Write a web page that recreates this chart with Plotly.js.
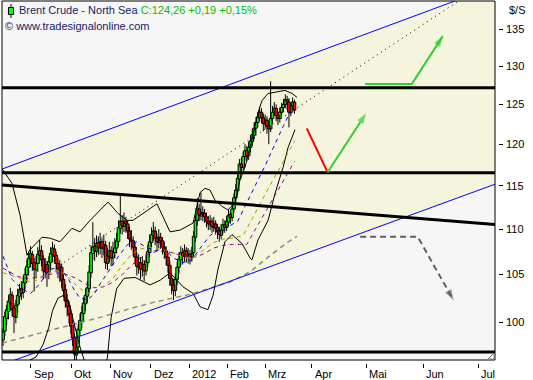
<!DOCTYPE html>
<html><head><meta charset="utf-8">
<script src="https://cdn.plot.ly/plotly-3.0.1.min.js"></script>
<style>body{margin:0;background:#fff}#chart{width:533px;height:380px}</style>
</head><body><div id="chart"></div><script>
// ---- data (bar index = trading day, future = calendar days) ----
const tickPos  = [15.1, 37.1, 58.5, 80.6, 101.5, 122.4, 143.1, 168.4, 198.2, 229.3, 259.3];
const tickText = ['Sep','Okt','Nov','Dez','2012','Feb','Mrz','Apr','Mai','Jun','Jul'];
const yTicks   = [100,105,110,115,120,125,130,135];

const open  = [98.2,99.1,100.4,101.1,102.0,102.8,101.5,100.5,101.8,102.7,103.5,103.1,104.1,105.0,105.8,106.7,107.2,106.3,105.5,106.2,
107.1,107.6,106.7,105.3,106.1,105.2,106.3,107.2,107.8,107.1,106.2,105.5,105.8,104.5,103.4,102.3,101.7,100.9,99.7,98.5,
96.7,97.5,99.2,100.1,100.9,101.9,102.7,103.5,105.2,107.3,108.1,107.5,108.5,107.9,108.6,107.8,108.2,106.2,107.0,107.6,
106.8,107.4,107.9,108.6,110.1,110.9,110.3,110.9,110.6,109.8,108.8,108.7,108.0,106.9,105.8,106.3,105.6,106.1,105.4,106.3,
107.4,108.5,109.3,109.8,109.0,108.5,109.1,108.7,108.0,107.6,106.9,106.0,104.6,103.9,103.3,104.5,105.8,106.6,107.4,107.0,
107.6,107.0,107.2,106.9,107.4,109.1,111.0,112.3,111.5,111.9,111.8,111.4,110.9,110.5,110.9,110.2,110.6,110.2,109.8,109.3,
109.9,110.5,110.2,110.8,111.7,111.3,112.3,113.6,114.4,115.8,117.6,117.2,118.5,119.2,118.6,119.6,120.3,121.1,122.0,122.7,
123.3,124.0,123.3,122.5,123.0,122.3,121.9,123.2,124.0,124.5,123.6,123.2,124.0,124.6,125.0,125.6,125.3,124.0,124.8,125.3];
const high  = [99.4,101.1,101.8,102.8,103.6,103.2,102.0,102.3,103.5,104.0,104.3,104.8,105.7,106.6,107.5,108.1,107.6,106.8,107.0,108.0,
108.8,108.2,107.1,106.8,106.5,107.0,108.0,108.6,108.3,107.5,106.8,106.6,106.2,105.0,104.0,102.9,102.2,101.4,100.2,98.9,
98.0,99.8,100.9,101.7,102.6,103.5,104.3,106.0,108.2,110.8,109.0,109.3,109.2,109.6,109.0,109.4,108.7,107.9,108.6,108.1,
108.6,109.0,109.6,111.0,113.9,111.6,111.9,111.4,111.0,110.3,109.9,109.2,108.5,107.4,107.2,106.9,107.0,106.6,107.2,108.3,
109.4,110.2,110.8,110.3,109.5,110.0,109.6,109.1,108.6,108.1,107.4,106.5,105.2,104.5,105.1,106.4,107.4,108.1,107.9,108.3,
108.0,107.9,107.7,108.0,109.8,111.6,113.6,112.9,114.2,112.6,112.3,111.9,111.5,111.6,111.3,111.4,111.0,110.6,110.3,110.6,
111.2,111.0,111.5,112.2,112.0,112.9,114.1,115.2,116.6,118.2,118.3,119.1,120.0,119.8,120.3,121.1,121.9,122.7,123.4,124.0,
124.7,124.5,123.8,123.7,123.5,122.8,128.0,124.8,125.3,125.0,124.1,124.6,125.2,125.7,126.3,126.1,125.8,125.3,125.9,125.6];
const low   = [97.6,98.6,99.7,100.3,101.2,100.6,98.9,99.9,101.0,101.9,102.3,102.5,103.4,104.2,104.9,105.8,105.4,103.2,104.6,105.3,
106.2,105.9,104.5,104.6,103.7,104.5,105.6,106.4,106.2,105.3,104.6,104.2,103.6,102.6,101.5,100.6,99.9,98.8,97.6,95.8,
95.6,97.0,98.6,99.4,100.2,101.2,102.0,103.0,104.7,106.6,106.5,106.9,107.1,107.2,106.8,107.1,105.6,105.5,106.3,105.9,
106.0,106.8,107.3,108.1,109.5,109.4,109.7,109.6,108.9,108.0,107.7,107.0,106.1,104.9,105.1,104.5,104.8,104.3,104.9,105.8,
106.9,107.9,108.7,108.2,107.6,107.9,107.8,107.2,106.7,106.0,105.2,103.8,102.9,102.3,102.7,103.9,105.1,106.0,106.1,106.4,
106.3,106.2,106.1,106.4,107.0,108.6,110.4,110.9,111.0,110.9,110.7,110.2,109.9,109.9,109.6,109.7,109.4,108.9,108.6,108.9,
109.5,109.6,109.8,110.3,110.6,110.9,111.9,113.0,114.0,115.4,116.5,116.8,118.0,117.9,118.1,119.0,119.8,120.6,121.3,122.1,
122.9,122.6,121.6,121.9,121.3,120.0,121.5,122.6,123.5,122.9,122.4,122.7,123.5,124.0,124.5,124.3,122.1,123.5,124.3,123.8];
const close = [99.0,100.6,101.3,102.2,102.9,101.3,100.6,101.7,102.8,103.4,103.0,104.2,105.0,105.9,106.8,107.3,106.2,105.6,106.3,107.2,
107.6,106.6,105.4,106.0,105.2,106.4,107.3,107.9,107.0,106.2,105.6,105.9,104.4,103.3,102.2,101.6,100.8,99.6,98.4,96.8,
97.4,99.3,100.2,101.0,102.0,102.8,103.6,105.3,107.4,108.0,107.6,108.4,108.0,108.6,107.9,108.3,106.3,107.0,107.6,106.8,
107.5,107.9,108.7,110.2,110.9,110.4,110.9,110.6,109.8,108.9,108.6,108.0,106.9,105.9,106.3,105.6,106.1,105.4,106.4,107.5,
108.6,109.4,109.8,109.0,108.6,109.1,108.7,108.0,107.5,106.9,106.0,104.6,103.9,103.3,104.5,105.8,106.7,107.4,107.0,107.6,
107.0,107.2,106.9,107.3,109.2,111.0,112.4,111.6,111.9,111.7,111.4,110.9,110.6,110.9,110.3,110.6,110.1,109.7,109.4,109.9,
110.5,110.2,110.9,111.6,111.3,112.3,113.6,114.5,115.9,117.6,117.2,118.5,119.2,118.6,119.6,120.4,121.2,122.0,122.7,123.4,
124.0,123.3,122.6,123.0,122.2,121.9,123.2,124.0,124.5,123.6,123.2,124.0,124.6,125.0,125.6,125.3,124.0,124.8,125.3,124.26];

// indicators (bar, price)
const bbUpX = [-0.5,4.9,9.3,13.1,14.7,21.3,25.6,31.1,37.6,42,47.5,52.9,57.3,62.7,67.6,70.9,76.4,84,87.3,91.1,96.6,103.7,107.5,110.2,112.9,115.7,119.5,122.7,126.6,129.3,132,135.8,139.1,141.3,144.6,153.8,157.7,160.4];
const bbUpY = [117.0,115.3,111.6,107.1,107.7,109.1,109.0,108.6,110.1,109.7,111.0,112.2,113.1,111.8,111.0,111.0,111.8,112.9,111.4,109.7,109.9,110.7,114.2,114.7,114.5,113.3,112.6,112.2,113.0,115.7,117.2,120.5,123.9,125.5,126.4,126.8,126.4,125.9];
const bbLoX = [-0.5,10,18,22,25,27,30,33,36,39,42,45,50,55,57,59,62,66,72,80.2,85.7,91.1,98.2,103.7,107.5,111.8,114.6,117.3,121.1,124.9,130.4,134.8,135.8,139.1,144.6,148.4,152.8,155.5,157.7,159.3];
const bbLoY = [95.5,95.8,96.5,97.8,99.5,101.2,102.5,102.8,102.0,99.8,97.5,95.8,94.8,95.0,96.5,100.5,103.5,104.6,104.7,103.9,104.4,105.2,103.7,103.0,101.6,101.3,102.8,105.6,108.6,109.4,108.4,106.8,106.6,108.8,111.0,114.1,117.2,119.6,120.9,121.8];
const maBlueX = [0,5,10,15,20,25,30,34,36,39,42,46,50,53,58,63,68,73,78,83,88,93,98,103,108,113,118,123,128,133,138,143,148,153,156,159];
const maBlueY = [107.0,104.5,103.5,103.0,104.0,105.5,105.8,105.0,104.4,103.3,102.5,102.3,103.0,104.0,105.5,107.0,108.3,108.6,108.0,107.6,107.8,106.8,106.3,106.6,108.0,109.3,110.0,110.3,110.9,113.1,115.2,117.4,119.9,122.3,123.7,124.2];
const maOliveX = [0,10,15,20,25,30,34,38,42,46,50,55,60,65,70,75,80,85,90,95,100,105,110,115,120,125,131,136,141,146,151,156,159];
const maOliveY = [105.2,104.6,104.2,104.5,105.2,105.5,105.0,104.3,103.5,103.0,103.2,103.8,104.6,106.0,107.2,107.8,108.0,107.8,107.6,107.2,106.8,107.0,107.8,108.5,108.9,109.0,109.3,111.2,113.2,115.2,117.1,119.1,120.4];
const maPurpleX = [0,8,13,20,25,30,35,40,45,50,55,60,65,70,75,80,85,90,95,100,105,110,115,120,125,133,138,143,148,153,159];
const maPurpleY = [105.7,104.8,104.6,104.7,105.0,105.2,105.0,104.6,104.0,103.6,103.7,104.2,105.0,106.0,106.8,107.3,107.6,107.5,107.2,107.0,106.9,107.3,107.9,108.2,108.3,108.3,110.1,111.9,113.8,115.7,117.9];
const maLongX = [-0.5,20.2,34.9,52.9,69.3,82.9,102,123.8,134.8,144.6,155,160.4];
const maLongY = [97.9,98.9,99.6,100.5,101.4,102.1,102.9,104.2,105.3,106.9,108.5,109.2];

// drawn lines (bar, price)
const levels = [127.15, 116.55, 97.0];
const upperChX = [-0.55, 268.4], upperChY = [116.99, 141.1];
const lowerChX = [-0.55, 268.4], lowerChY = [95.74, 115.19];
const trendX = [-0.55, 268.4], trendY = [115.09, 110.54];
const dotX = [31.1, 260.2], dotY = [106.04, 141.0];
const chanFillX = [-0.55, 268.4, 268.4, 18.6, -0.55];
const chanFillY = [116.99, 141.1, 115.19, 97.0, 97.0];
const redX = [165.7, 177.1], redY = [121.97, 116.6];
const greenX = [177.1, 198.0], greenY = [116.6, 123.85];
const green2X = [197.5, 223.0, 239.9], green2Y = [127.63, 127.63, 134.05];
const grayX = [194.8, 226.2, 245.7], grayY = [109.16, 109.16, 102.31];

const xR = [-0.55, 268.4];
const yR = [Math.log10(96.21), Math.log10(138.96)];
const traces = [];
const ln = (x, y, color, width, dash) => ({type:'scatter', mode:'lines', x, y, xaxis:'x3', yaxis:'y3', line:{color, width, dash: dash||'solid'}, hoverinfo:'skip'});
// background channel fill on the base subplot
traces.push({type:'scatter', mode:'lines', x:chanFillX, y:chanFillY, fill:'toself', fillcolor:'#F5F4DD', line:{width:0}, hoverinfo:'skip'});
// wicks (behind bodies) on overlay 2
const idx = close.map((_, i) => i);
const wickX = [], wickY = [];
idx.forEach(i => { wickX.push(i, i, null); wickY.push(low[i], high[i], null); });
traces.push({type:'scatter', mode:'lines', x:wickX, y:wickY, xaxis:'x2', yaxis:'y2', line:{color:'#000', width:1}, hoverinfo:'skip'});
// bodies on overlay 3
const up = idx.filter(i => close[i] >= open[i]), dn = idx.filter(i => close[i] < open[i]);
traces.push({type:'bar', x:up, base:up.map(i => open[i]), y:up.map(i => Math.max(close[i]-open[i], 0.05)), width:1.45, xaxis:'x3', yaxis:'y3',
  marker:{color:'#00FF00', line:{color:'#000', width:1}}, hoverinfo:'skip'});
traces.push({type:'bar', x:dn, base:dn.map(i => close[i]), y:dn.map(i => open[i]-close[i]), width:1.45, xaxis:'x3', yaxis:'y3',
  marker:{color:'#FF0000', line:{color:'#000', width:1}}, hoverinfo:'skip'});
traces.push(ln(maLongX, maLongY, '#8C8C8C', 1.5, '5px,4px'));
traces.push(ln(bbUpX, bbUpY, '#000000', 1));
traces.push(ln(bbLoX, bbLoY, '#000000', 1));
traces.push(ln(maPurpleX, maPurpleY, '#990099', 1, '4px,4px'));
traces.push(ln(maOliveX, maOliveY, '#A0A000', 1, '4px,4px'));
traces.push(ln(maBlueX, maBlueY, '#0000FF', 1, '4px,4px'));
traces.push(ln(dotX, dotY, '#000000', 1, '1px,4px'));
traces.push(ln(upperChX, upperChY, '#0000FF', 1));
traces.push(ln(lowerChX, lowerChY, '#0000FF', 1));
levels.forEach(v => traces.push(ln(xR, [v, v], '#000000', 3)));
traces.push(ln(trendX, trendY, '#000000', 3));
const arrow = (x, y, color, dash) => ({type:'scatter', mode:'lines+markers', x, y, xaxis:'x3', yaxis:'y3',
  line:{color, width:2, dash: dash||'solid'},
  marker:{symbol: x.map((_, i) => i === x.length-1 ? 'arrow' : 'circle'), size: x.map((_, i) => i === x.length-1 ? 11 : 0), color, angleref:'previous', line:{width:0}},
  hoverinfo:'skip'});
traces.push(ln(redX, redY, '#FF0000', 2));
traces.push(arrow(greenX, greenY, '#33CC33'));
traces.push(arrow(green2X, green2Y, '#33CC33'));
traces.push(arrow(grayX, grayY, '#606060', '6px,4px'));

const F = 'Liberation Sans, Arial, sans-serif';
const annotations = tickPos.map((v, i) => ({x: v, y: -0.017, xref:'x', yref:'paper', text: tickText[i], showarrow:false, xanchor:'left', yanchor:'middle', xshift:1, font:{family:F, size:11, color:'#000'}}));
annotations.push({x:(507-2)/501, y:(368-10)/367, xref:'paper', yref:'paper', text:'$/S', showarrow:false, xanchor:'left', yanchor:'middle', font:{family:F, size:11, color:'#000'}});
annotations.push({x:(17-2)/501, y:(368-10)/367, xref:'paper', yref:'paper', text:'Brent Crude - North Sea <span style="color:#00C000">C:124,26 +0,19 +0,15%</span>', showarrow:false, xanchor:'left', yanchor:'middle', font:{family:F, size:11, color:'#1A1A66'}});
annotations.push({x:(3-2)/501, y:(368-26)/367, xref:'paper', yref:'paper', text:'© www.tradesignalonline.com', showarrow:false, xanchor:'left', yanchor:'middle', font:{family:F, size:11, color:'#1A1A66'}});

const px = p => (p-2)/501, py = p => (368-p)/367;
const shapes = [
  {type:'rect', xref:'x domain', yref:'y domain', x0:0, x1:1, y0:0, y1:1, line:{color:'#000', width:1}, layer:'above'},
  {type:'line', xref:'paper', yref:'paper', x0:px(11), x1:px(11), y0:py(4), y1:py(18), line:{color:'#000', width:1}},
  {type:'rect', xref:'paper', yref:'paper', x0:px(8.5), x1:px(13.5), y0:py(7.5), y1:py(14.5), fillcolor:'#00FF00', line:{color:'#000', width:1}},
  {type:'path', xref:'paper', yref:'paper', path:`M ${px(494)} ${py(353)} L ${px(494)} ${py(359)} L ${px(488)} ${py(359)} Z`, fillcolor:'#FFFFFF', line:{color:'#808080', width:1}}
];

const hidden = {showgrid:false, zeroline:false, showline:false, showticklabels:false, ticks:'', fixedrange:true};
const layout = {
  width:533, height:380, margin:{l:2, r:30, t:1, b:12, pad:0},
  paper_bgcolor:'#FFFFFF', plot_bgcolor:'#F6F6F6', showlegend:false, barmode:'overlay',
  xaxis:{range:xR, domain:[0, 493/501], anchor:'free', position:0, showgrid:false, zeroline:false, showline:false,
    tickmode:'array', tickvals:tickPos, ticktext:tickPos.map(() => ''), ticks:'inside', ticklen:4, tickcolor:'#000', tickwidth:1, fixedrange:true},
  yaxis:{type:'log', range:yR, domain:[8/367, 1], anchor:'free', position:1, side:'right',
    showgrid:false, zeroline:false, showline:false, tickmode:'array', tickvals:yTicks, ticktext:yTicks.map(String),
    ticks:'inside', ticklen:4, tickcolor:'#000', ticklabelstandoff:2, tickfont:{family:F, size:11, color:'#000'}, fixedrange:true},
  xaxis2:Object.assign({range:xR, domain:[0, 493/501], overlaying:'x', anchor:'y2'}, hidden),
  yaxis2:Object.assign({type:'log', range:yR, domain:[8/367, 1], overlaying:'y', anchor:'x2', side:'right'}, hidden),
  xaxis3:Object.assign({range:xR, domain:[0, 493/501], overlaying:'x', anchor:'y3'}, hidden),
  yaxis3:Object.assign({type:'log', range:yR, domain:[8/367, 1], overlaying:'y', anchor:'x3', side:'right'}, hidden),
  annotations, shapes
};
Plotly.newPlot('chart', traces, layout, {staticPlot:true, displayModeBar:false});
</script></body></html>
